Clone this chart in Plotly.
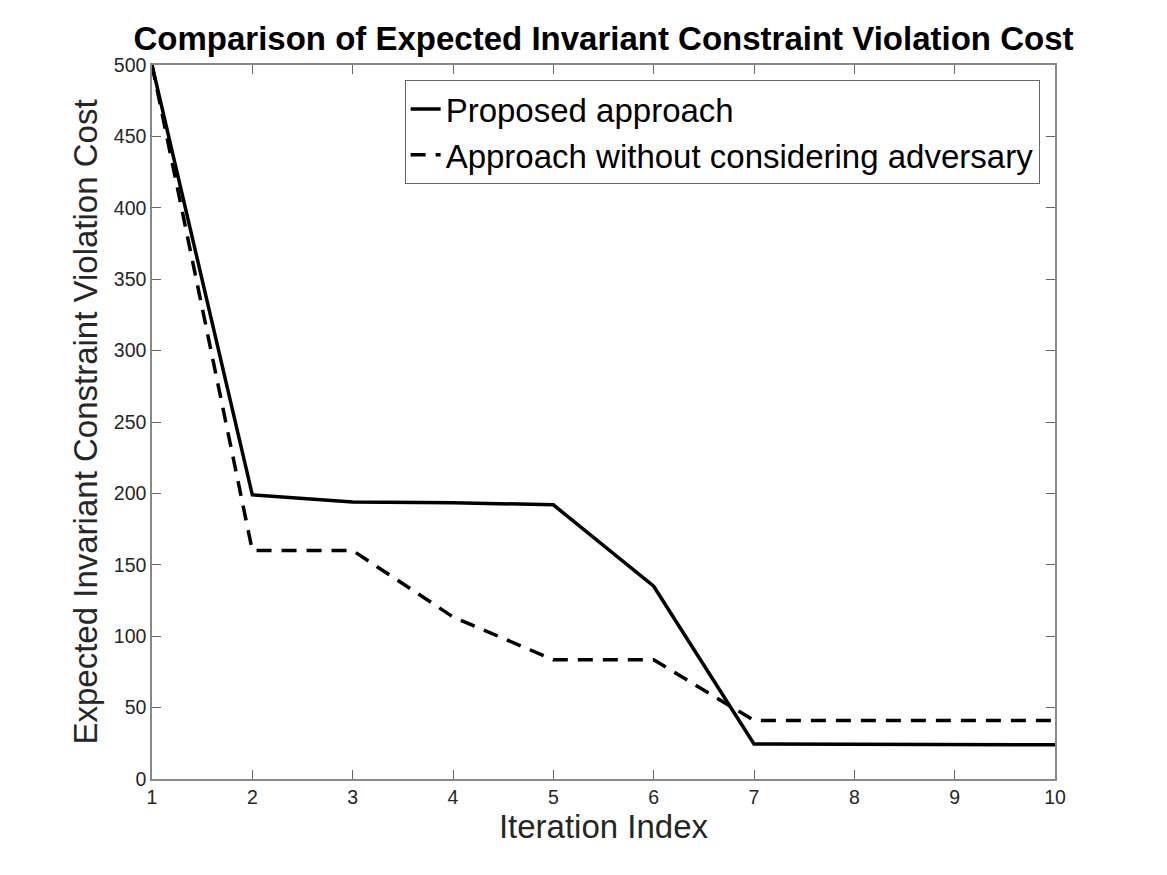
import plotly.graph_objects as go

iterations = [1, 2, 3, 4, 5, 6, 7, 8, 9, 10]
proposed = [500, 199, 194, 193.5, 192, 135, 24.5, 24.5, 24, 24]
no_adversary = [500, 160, 160, 113.5, 83.5, 83.5, 41, 41, 41, 41]
x_ticks = [1, 2, 3, 4, 5, 6, 7, 8, 9, 10]
y_ticks = [0, 50, 100, 150, 200, 250, 300, 350, 400, 450, 500]

FONT = "Liberation Sans, Arial, Helvetica"

fig = go.Figure()
fig.add_trace(go.Scatter(x=iterations, y=proposed, mode="lines",
                         name="Proposed approach",
                         line=dict(color="black", width=3.5)))
fig.add_trace(go.Scatter(x=iterations, y=no_adversary, mode="lines",
                         name="Approach without considering adversary",
                         line=dict(color="black", width=3.5, dash="15px,10px")))

axis_common = dict(showgrid=False, zeroline=False, showline=True, mirror="ticks",
                   linecolor="#888888", linewidth=1.5, ticks="inside", ticklen=9,
                   tickcolor="#666666", tickwidth=1,
                   tickfont=dict(family=FONT, size=19.5, color="#262626"))

fig.update_layout(
    width=1167, height=875,
    paper_bgcolor="white", plot_bgcolor="white",
    margin=dict(l=152, r=112, t=65, b=96),
    title=dict(text="<b>Comparison of Expected Invariant Constraint Violation Cost</b>",
               x=(152 + 1055) / 2 / 1167, xanchor="center", y=1 - 38 / 875, yanchor="middle",
               font=dict(family=FONT, size=33, color="black")),
    xaxis=dict(range=[1, 10], tickvals=x_ticks,
               title=dict(text="Iteration Index", standoff=8,
                          font=dict(family=FONT, size=33, color="#262626")),
               **axis_common),
    yaxis=dict(range=[0, 500], tickvals=y_ticks,
               title=dict(text="Expected Invariant Constraint Violation Cost", standoff=6,
                          font=dict(family=FONT, size=33, color="#262626")),
               **axis_common),
    legend=dict(x=0.983, y=0.979, xanchor="right", yanchor="top",
                bordercolor="#666666", borderwidth=1, bgcolor="white",
                font=dict(family=FONT, size=33, color="black"),
                tracegroupgap=0, itemwidth=30),
    showlegend=True,
)

fig.write_html("out.html")
